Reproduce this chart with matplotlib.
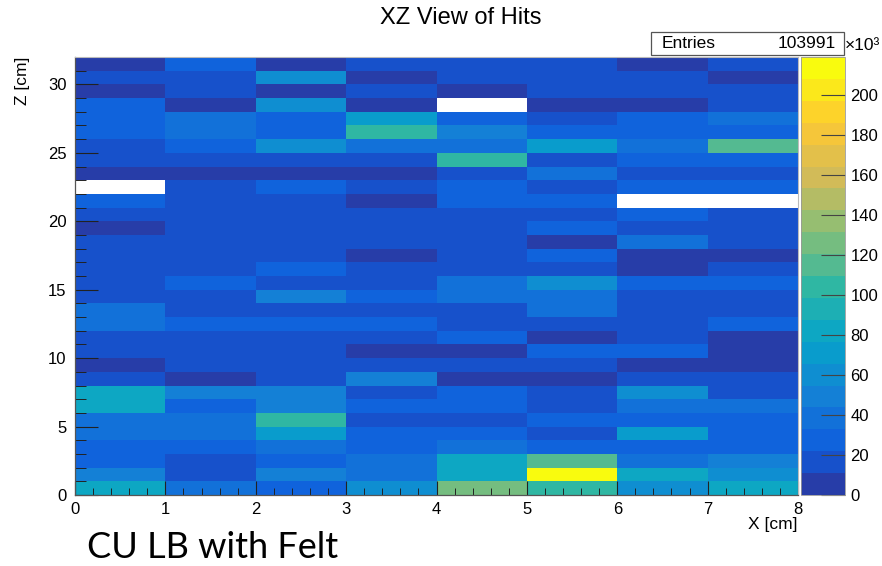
import numpy as np
import matplotlib
matplotlib.use("Agg")
import matplotlib.pyplot as plt
from matplotlib.colors import LinearSegmentedColormap, ListedColormap, BoundaryNorm
from matplotlib.patches import Rectangle

plt.rcParams["font.family"] = ["Liberation Sans", "DejaVu Sans"]

# hits per 1x1 cm cell, in thousands; index 0 is Z = 0-1 cm, 0 means empty bin
x_edges = np.arange(0, 9)
z_edges = np.arange(0, 33)

col_0 = [82, 49, 27, 27, 38, 38, 82, 82, 16, 6, 16, 16, 38, 38, 16, 16,
         16, 16, 16, 6, 16, 27, 0, 6, 16, 16, 27, 27, 27, 6, 16, 6]
col_1 = [38, 16, 16, 27, 38, 38, 27, 49, 6, 16, 16, 16, 27, 16, 16, 27,
         16, 16, 16, 16, 16, 16, 16, 6, 16, 27, 38, 38, 6, 16, 16, 27]
col_2 = [27, 49, 27, 38, 71, 104, 49, 49, 16, 16, 16, 16, 27, 16, 49, 16,
         27, 16, 16, 16, 16, 16, 27, 6, 16, 60, 27, 27, 60, 6, 60, 6]
col_3 = [60, 38, 38, 27, 27, 16, 27, 16, 49, 16, 6, 16, 27, 16, 27, 16,
         16, 6, 16, 16, 16, 6, 16, 6, 16, 38, 104, 71, 6, 16, 6, 16]
col_4 = [126, 82, 82, 38, 27, 16, 27, 27, 6, 16, 6, 27, 16, 16, 38, 38,
         16, 16, 16, 16, 16, 27, 27, 16, 104, 38, 49, 27, 0, 6, 16, 16]
col_5 = [104, 218, 115, 27, 16, 27, 16, 16, 6, 16, 27, 6, 16, 38, 38, 60,
         16, 27, 6, 27, 16, 27, 16, 38, 16, 71, 27, 16, 6, 16, 16, 16]
col_6 = [60, 80, 38, 27, 71, 27, 38, 60, 16, 6, 27, 16, 16, 16, 16, 27,
         6, 6, 38, 16, 27, 0, 27, 16, 27, 38, 27, 27, 6, 16, 16, 6]
col_7 = [82, 60, 49, 27, 27, 27, 38, 16, 16, 6, 6, 6, 27, 16, 16, 27,
         16, 6, 16, 16, 16, 0, 27, 16, 27, 115, 27, 38, 16, 16, 6, 16]

z_max = 219
n_contours = 20
cbar_ticks = list(range(0, 201, 20))
entries = "103991"

# ROOT kBird palette
stops = [0.0, 0.125, 0.25, 0.375, 0.5, 0.625, 0.75, 0.875, 1.0]
red = [0.2082, 0.0592, 0.0780, 0.0232, 0.1802, 0.5301, 0.8186, 0.9956, 0.9764]
green = [0.1664, 0.3599, 0.5041, 0.6419, 0.7178, 0.7492, 0.7328, 0.7862, 0.9832]
blue = [0.5293, 0.8684, 0.8385, 0.7914, 0.6425, 0.4662, 0.3499, 0.1968, 0.0539]
bird = LinearSegmentedColormap("bird", {
    "red": [(s, v, v) for s, v in zip(stops, red)],
    "green": [(s, v, v) for s, v in zip(stops, green)],
    "blue": [(s, v, v) for s, v in zip(stops, blue)],
})
band_colors = [bird(int((i + 0.99) * 255 / n_contours) / 254) for i in range(n_contours)]
cmap = ListedColormap(band_colors)
cmap.set_bad("white")
levels = np.linspace(0, z_max, n_contours + 1)
norm = BoundaryNorm(levels, n_contours)

grid = np.column_stack([col_0, col_1, col_2, col_3, col_4, col_5, col_6, col_7]).astype(float)
grid = np.ma.masked_equal(grid, 0)

W, H = 882, 566
fig = plt.figure(figsize=(W / 100, H / 100), dpi=100)

def fx(px):
    return px / W

def fy(py):
    return 1 - py / H

ax = fig.add_axes([fx(75), fy(495), fx(798) - fx(75), fy(57) - fy(495)])
mesh = ax.pcolormesh(x_edges, z_edges, grid, cmap=cmap, norm=norm)
ax.set_xlim(0, 8)
ax.set_ylim(0, 32)
ax.set_xticks(range(0, 9))
ax.set_xticks(np.arange(0, 8.01, 0.2), minor=True)
ax.set_yticks(range(0, 31, 5))
ax.set_yticks(range(0, 33), minor=True)
ax.tick_params(axis="x", which="major", direction="in", length=10, width=0.8,
               color="#222222", labelsize=12, pad=5)
ax.tick_params(axis="x", which="minor", direction="in", length=5, width=0.7, color="#222222")
ax.tick_params(axis="y", which="major", direction="in", length=16.5, width=0.8,
               color="#222222", labelsize=12, pad=6)
ax.tick_params(axis="y", which="minor", direction="in", length=8, width=0.7, color="#222222")
for side in ["top", "right"]:
    ax.spines[side].set_color("#bbbbbb")
    ax.spines[side].set_linewidth(0.8)
for side in ["left", "bottom"]:
    ax.spines[side].set_color("#555555")
    ax.spines[side].set_linewidth(0.9)

cax = fig.add_axes([fx(801), fy(495), fx(845) - fx(801), fy(57) - fy(495)])
cb = fig.colorbar(mesh, cax=cax, ticks=cbar_ticks)
cb.outline.set_edgecolor("#999999")
cb.outline.set_linewidth(0.6)
cax.tick_params(direction="in", length=17, width=0.8, color="#444444", labelsize=12, pad=4)
cax.minorticks_off()

fig.text(fx(461), fy(18), "XZ View of Hits", ha="center", va="center", fontsize=17)
fig.patches.append(Rectangle((fx(651), fy(55)), fx(844) - fx(651), fy(32) - fy(55),
                             transform=fig.transFigure, facecolor="white",
                             edgecolor="#555555", linewidth=0.9))
fig.text(fx(662), fy(44), "Entries", ha="left", va="center", fontsize=12.5)
fig.text(fx(836), fy(44), entries, ha="right", va="center", fontsize=12.5)
fig.text(fx(845), fy(46), "×10³", ha="left", va="center", fontsize=12.5)

fig.text(fx(798), fy(525), "X [cm]", ha="right", va="center", fontsize=12.5)
fig.text(fx(23), fy(57), "Z [cm]", ha="center", va="top", rotation=90, fontsize=12.5)
fig.text(fx(87), fy(547), "CU LB with Felt", ha="left", va="center", fontsize=26,
         family=["Lato", "DejaVu Sans"])

fig.savefig("out.png", dpi=100)
